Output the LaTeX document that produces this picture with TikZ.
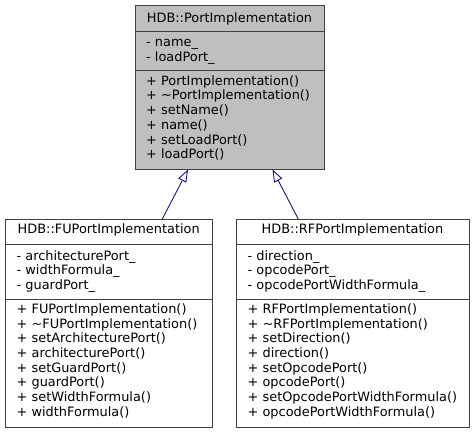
\documentclass[tikz,border=0pt]{standalone}
\usepackage{fontspec}
\setmainfont{DejaVu Sans}
\usetikzlibrary{arrows.meta}
\definecolor{edgeblue}{HTML}{191970}
\definecolor{boxgray}{HTML}{BFBFBF}
\definecolor{boxline}{HTML}{404040}
\tikzset{
  compart/.style={draw=boxline, line width=1bp, inner sep=0pt},
  txt/.style={inner sep=0pt, font=\fontsize{12.9bp}{14bp}\selectfont, text=black},
  lft/.style={txt, anchor=base west},
  ctr/.style={txt, anchor=base},
  inherit/.style={draw=edgeblue, line width=0.9bp, -{Triangle[open, length=12.5bp, width=9bp]}}
}
\begin{document}
\begin{tikzpicture}[x=1bp, y=-1bp]
\useasboundingbox (0,0) rectangle (475,433);
% ---------- PortImplementation ----------
\draw[compart, fill=boxgray] (135.5,5.5) rectangle (324.5,169.5);
\draw[compart] (135.5,32) -- (324.5,32);
\draw[compart] (135.5,70.7) -- (324.5,70.7);
\node[ctr] (pt) at (229.5,22.7) {HDB::PortImplementation};
\foreach \t [count=\i from 0] in {- name\_, - loadPort\_}
  \node[lft] (pa\i) at (146,46.7+\i*14.6) {\t};
\foreach \t [count=\i from 0] in {+ PortImplementation(), + \textasciitilde PortImplementation(), + setName(), + name(), + setLoadPort(), + loadPort()}
  \node[lft] (pm\i) at (146,85.3+\i*14.7) {\t};
% ---------- FUPortImplementation ----------
\draw[compart, fill=white] (5.5,219.5) rectangle (212.5,427.5);
\draw[compart] (5.5,244.7) -- (212.5,244.7);
\draw[compart] (5.5,299) -- (212.5,299);
\node[ctr] (ft) at (108.7,234) {HDB::FUPortImplementation};
\foreach \t [count=\i from 0] in {- architecturePort\_, - widthFormula\_, - guardPort\_}
  \node[lft] (fa\i) at (16.5,260+\i*14.66) {\t};
\foreach \t [count=\i from 0] in {+ FUPortImplementation(), + \textasciitilde FUPortImplementation(), + setArchitecturePort(), + architecturePort(), + setGuardPort(), + guardPort(), + setWidthFormula(), + widthFormula()}
  \node[lft] (fm\i) at (16.5,313.5+\i*14.66) {\t};
% ---------- RFPortImplementation ----------
\draw[compart, fill=white] (236.5,219.5) rectangle (469.5,427.5);
\draw[compart] (236.5,244.7) -- (469.5,244.7);
\draw[compart] (236.5,299) -- (469.5,299);
\node[ctr] (rt) at (352.5,234) {HDB::RFPortImplementation};
\foreach \t [count=\i from 0] in {- direction\_, - opcodePort\_, - opcodePortWidthFormula\_}
  \node[lft] (ra\i) at (247.5,260+\i*14.66) {\t};
\foreach \t [count=\i from 0] in {+ RFPortImplementation(), + \textasciitilde RFPortImplementation(), + setDirection(), + direction(), + setOpcodePort(), + opcodePort(), + setOpcodePortWidthFormula(), + opcodePortWidthFormula()}
  \node[lft] (rm\i) at (247.5,313.5+\i*14.66) {\t};
% ---------- inheritance ----------
\coordinate (fuTop) at (162,219.5);
\coordinate (rfTop) at (298.5,219.5);
\coordinate (tipL) at (188,169.5);
\coordinate (tipR) at (272.5,169.5);
\draw[inherit] (fuTop) -- (tipL);
\draw[inherit] (rfTop) -- (tipR);
\end{tikzpicture}
\end{document}
